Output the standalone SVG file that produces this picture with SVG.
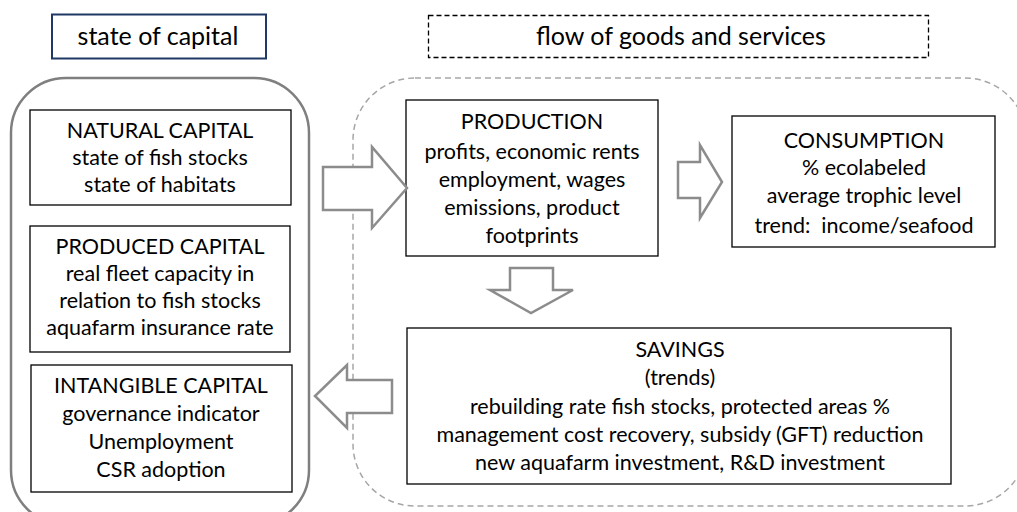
<svg xmlns="http://www.w3.org/2000/svg" width="1017" height="512" viewBox="0 0 1017 512">
  <defs>
    <style>
      .t { font-family: Lato, "Liberation Sans", sans-serif; font-size: 21.5px; fill: #000; text-anchor: middle; }
      .hdr { font-size: 25px; }
      .box { fill: #fff; stroke: #000; stroke-width: 1.3; }
      .arrow { fill: #fff; stroke: #8c8c8c; stroke-width: 2.5; stroke-linejoin: miter; }
    </style>
  </defs>
  <rect width="1017" height="512" fill="#fff"/>

  <!-- group containers -->
  <g id="capital-container">
    <rect x="11" y="78" width="298" height="447" rx="55" fill="none" stroke="#7f7f7f" stroke-width="2.5"/>
  </g>
  <g id="flow-container">
    <rect x="353" y="78" width="674" height="428" rx="62" fill="none" stroke="#a6a6a6" stroke-width="1.5" stroke-dasharray="6 4"/>
  </g>

  <!-- headings -->
  <g id="state-of-capital">
    <rect x="52" y="14.5" width="214" height="44" fill="#fff" stroke="#1f3864" stroke-width="2"/>
    <text class="t hdr" x="158" y="45">state of capital</text>
  </g>
  <g id="flow-of-goods">
    <rect x="428.5" y="15.5" width="500" height="42" fill="#fff" stroke="#000" stroke-width="1.3" stroke-dasharray="5 3"/>
    <text class="t hdr" x="681" y="45">flow of goods and services</text>
  </g>

  <!-- capital nodes -->
  <g id="natural-capital">
    <rect class="box" x="30" y="110" width="261" height="95"/>
    <text class="t" x="160" y="138">NATURAL CAPITAL</text>
    <text class="t" x="160" y="165">state of fish stocks</text>
    <text class="t" x="160" y="192">state of habitats</text>
  </g>
  <g id="produced-capital">
    <rect class="box" x="30" y="226" width="260" height="126"/>
    <text class="t" x="160" y="254">PRODUCED CAPITAL</text>
    <text class="t" x="160" y="281">real fleet capacity in</text>
    <text class="t" x="160" y="308">relation to fish stocks</text>
    <text class="t" x="160" y="335">aquafarm insurance rate</text>
  </g>
  <g id="intangible-capital">
    <rect class="box" x="31" y="365" width="261" height="127"/>
    <text class="t" x="161" y="393">INTANGIBLE CAPITAL</text>
    <text class="t" x="161" y="421">governance indicator</text>
    <text class="t" x="161" y="449">Unemployment</text>
    <text class="t" x="161" y="477">CSR adoption</text>
  </g>

  <!-- flow nodes -->
  <g id="production">
    <rect class="box" x="406" y="100" width="252" height="156"/>
    <text class="t" x="532" y="129">PRODUCTION</text>
    <text class="t" x="532" y="159">profits, economic rents</text>
    <text class="t" x="532" y="187">employment, wages</text>
    <text class="t" x="532" y="215">emissions, product</text>
    <text class="t" x="532" y="243">footprints</text>
  </g>
  <g id="consumption">
    <rect class="box" x="732" y="116" width="263" height="131"/>
    <text class="t" x="864" y="148">CONSUMPTION</text>
    <text class="t" x="864" y="175">% ecolabeled</text>
    <text class="t" x="864" y="203">average trophic level</text>
    <text class="t" x="864" y="233">trend:&#160; income/seafood</text>
  </g>
  <g id="savings">
    <rect class="box" x="407" y="328" width="544" height="156"/>
    <text class="t" x="680" y="357">SAVINGS</text>
    <text class="t" x="680" y="385">(trends)</text>
    <text class="t" x="680" y="414">rebuilding rate fish stocks, protected areas %</text>
    <text class="t" x="680" y="442">management cost recovery, subsidy (GFT) reduction</text>
    <text class="t" x="680" y="470">new aquafarm investment, R&amp;D investment</text>
  </g>

  <!-- block arrows between nodes -->
  <g id="connectors">
    <path class="arrow" d="M323,167 L372,167 L372,147 L407,188 L372,228 L372,210 L323,210 Z"/>
    <path class="arrow" d="M678,162 L700,162 L700,145 L722,182 L700,218 L700,198 L678,198 Z"/>
    <path class="arrow" d="M510,268 L553,268 L553,290 L573,290 L531,313 L490,290 L510,290 Z"/>
    <path class="arrow" d="M392,380 L347,380 L347,365 L315,396 L347,428 L347,413 L392,413 Z"/>
  </g>
</svg>
